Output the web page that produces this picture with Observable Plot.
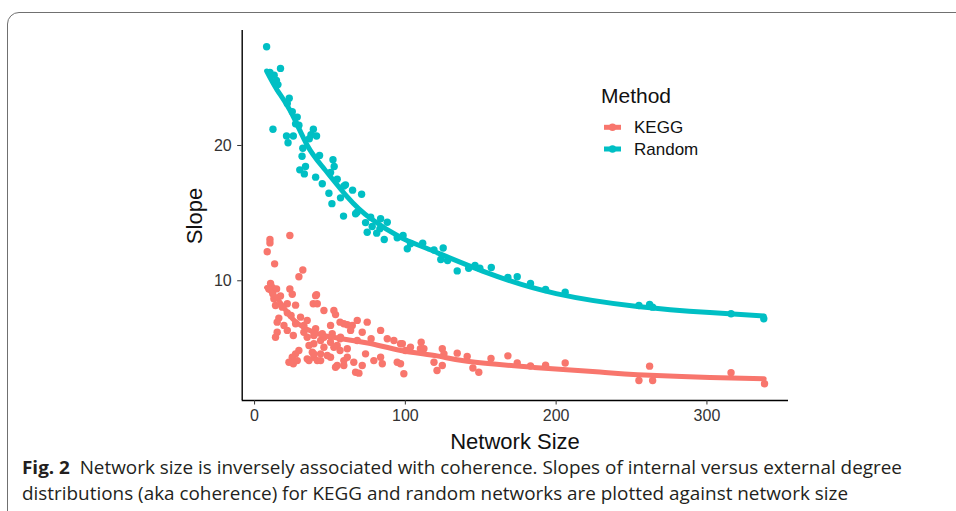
<!DOCTYPE html>
<html>
<head>
<meta charset="utf-8">
<script src="https://cdn.jsdelivr.net/npm/d3@7"></script>
<script src="https://cdn.jsdelivr.net/npm/@observablehq/plot@0.6"></script>
<style>
html,body{margin:0;padding:0;width:956px;height:511px;overflow:hidden;background:#fff;}
#frame{position:absolute;left:7px;top:12px;width:1000px;height:600px;border:1.4px solid #707070;border-radius:12px;box-sizing:border-box;}
#chart{position:absolute;left:0;top:0;}
#overlay{position:absolute;left:0;top:0;pointer-events:none;}
</style>
</head>
<body>
<div id="frame"></div>
<div id="chart"></div>
<svg id="overlay" width="956" height="511"></svg>
<script>
// ---- data ----
const methods = ["KEGG", "Random"];
const methodColors = ["#F8766D", "#00BFC4"];
const xTicks = [0, 100, 200, 300];
const yTicks = [10, 20];

// [network size, slope]
const randomPoints = [
  [8,27.3],[10.2,25.4],[17.2,25.7],[13,25.2],[14.5,24.8],[15.5,24.5],[12.2,21.2],[21.2,20.7],[22.2,20.2],[23,23.5],
  [21.7,23.1],[25,22.5],[28.3,22.1],[27.2,21.6],[29.4,21.5],[25.7,20.7],[39,21.2],[37.4,20.8],[36.3,20.5],[41.1,20.7],
  [31.5,19.2],[32,19.8],[43.1,19.26],[52,18.95],[52.8,18.45],[33.8,18.45],[30,18.2],[33,17.9],[50.4,18.0],[40.5,17.66],
  [54.8,17.5],[44.9,17.17],[60.3,17.09],[59.2,17.0],[65,16.7],[71,16.4],[49.3,16.47],[57,16.13],[51.3,15.7],[68,15.07],
  [59,14.78],[67,14.95],[77,14.7],[83.6,14.58],[88,14.33],[73.6,14.3],[78,14.01],[83.1,13.84],[74.7,13.59],[81,13.52],
  [86,13.05],[94.6,13.18],[98.5,13.35],[101.3,12.37],[103.4,12.74],[111.5,12.78],[119,12.28],[125.1,12.42],[123.5,11.57],[128,11.5],
  [134.4,10.73],[142,10.93],[146.2,11.13],[149.4,10.93],[157,10.98],[168,10.24],[174.2,10.3],[183,9.8],[193,9.35],[206,9.16],
  [254.9,8.17],[262,8.25],[264,8.05],[316,7.56],[337.7,7.19]
];

const keggPoints = [
  [10.2,13.05],[10.2,12.8],[23.4,13.35],[8.4,12.15],[13.3,11.25],[32,10.8],[29.4,10.3],[10.6,9.8],[11.7,9.5],[9.5,9.4],
  [14.6,9.4],[23.4,9.4],[25,9.0],[12.1,9.04],[17.2,8.87],[12.8,8.67],[41.1,8.97],[21.7,8.3],[27.2,8.2],[38.9,8.3],
  [41.6,8.3],[13.9,8.17],[18.4,8.05],[52.6,7.8],[46,7.8],[53.7,7.5],[21.7,7.63],[16.1,7.24],[24.2,7.43],[30.5,7.31],
  [34.9,7.07],[56.7,6.94],[50.4,6.7],[61.5,6.75],[15,6.94],[19.5,6.7],[27.2,6.82],[32.7,6.7],[40.5,6.45],[15,6.2],
  [13.9,5.83],[21.7,6.33],[25.7,5.96],[32.7,6.2],[34.9,5.83],[39.3,5.96],[44.9,6.08],[51.5,6.08],[56.7,5.71],[43.8,5.59],
  [50.4,5.46],[39.3,5.34],[36.1,5.22],[46,5.09],[54.8,5.22],[29.4,4.85],[27.2,4.6],[38.3,4.72],[43.8,4.6],[56.7,4.85],
  [25,4.35],[34.9,4.23],[22.8,3.98],[25.7,3.87],[39.3,4.35],[43.8,4.1],[50.4,4.35],[53.7,3.61],[59.2,3.74],[61.5,4.35],
  [36.1,4.1],[40.5,8.9],[59.2,6.82],[64.8,6.7],[68.1,7.07],[74.7,6.94],[63.7,6.33],[71.4,6.2],[83.6,6.33],[88,5.71],
  [77.3,5.71],[68.1,5.59],[57,5.83],[52.6,5.09],[61.5,4.97],[73.6,4.6],[83.6,4.35],[65.8,3.98],[71.4,3.74],[59.2,4.1],
  [54.8,3.74],[67,3.24],[69.2,3.17],[79.1,4.1],[84.7,3.87],[94.6,3.98],[96.8,3.87],[99,3.13],[92.4,5.59],[96.8,5.34],
  [103.4,5.09],[110,4.97],[119,3.98],[121,3.37],[46,5.83],[39.3,4.6],[48.2,4.48],[41.6,4.1],[28.3,4.1],[98,5.34],
  [100.1,4.85],[110.5,5.46],[112.3,4.97],[124.5,4.97],[125.6,4.6],[124.5,3.74],[134.4,4.65],[141,4.4],[144.8,3.55],[148.7,3.24],
  [156.8,4.26],[168,4.45],[174.2,3.92],[183,3.7],[193,3.76],[206,3.92],[254.9,2.63],[262,3.69],[264,2.63],[316,3.2],
  [338.2,2.39]
];

// fitted smooth curves
const randomFit = [[8,25.5],[15,24.1],[24,22.5],[35,20.0],[46,18.3],[61.5,16.2],[77,14.6],[97,13.2],[114,12.4],[154,10.6],[200,9.05],[254,8.1],[302,7.65],[338,7.4]];
const keggFit = [[8,9.5],[17,8.4],[26,7.1],[39,6.2],[53,5.8],[75,5.4],[97,4.85],[121,4.45],[141,4.05],[185,3.6],[229,3.25],[254,3.05],[302,2.85],[338,2.75]];

const toRows = (arr, m) => arr.map(([size, slope]) => ({size, slope, method: m}));
const pts = [...toRows(keggPoints, "KEGG"), ...toRows(randomPoints, "Random")];
const fits = [...toRows(keggFit, "KEGG"), ...toRows(randomFit, "Random")];

const plot = Plot.plot({
  width: 956,
  height: 455,
  marginLeft: 241.7,
  marginRight: 168,
  marginTop: 30,
  marginBottom: 55,
  style: {fontFamily: "'Liberation Sans', Arial, sans-serif", fontSize: "16px", background: "transparent", overflow: "visible"},
  x: {domain: [-8.2, 354.1]},
  y: {domain: [1.15, 28.5]},
  color: {domain: methods, range: methodColors},
  marks: [
    Plot.dot(pts, {x: "size", y: "slope", fill: "method", r: 3.7, stroke: "none"}),
    Plot.line(fits, {x: "size", y: "slope", stroke: "method", z: "method", strokeWidth: 5, curve: "natural"}),
    Plot.ruleY([1.15], {stroke: "#000", strokeWidth: 1.4}),
    Plot.ruleX([-8.2], {stroke: "#000", strokeWidth: 1.4}),
    Plot.axisX({ticks: xTicks, tickSize: 4.5, tickPadding: 4.5, label: null, stroke: "#333", fill: "#333", fontSize: 16}),
    Plot.axisY({ticks: yTicks, tickSize: 4.5, tickPadding: 6, label: null, stroke: "#333", fill: "#333", fontSize: 16})
  ]
});
document.getElementById("chart").appendChild(plot);

// ---- titles, legend and caption ----
const ov = d3.select("#overlay");
const ff = "'Liberation Sans', Arial, sans-serif";
ov.append("text").attr("x", 515).attr("y", 449).attr("text-anchor", "middle")
  .attr("font-family", ff).attr("font-size", 22).attr("fill", "#111").text("Network Size");
ov.append("text").attr("transform", "translate(202,216) rotate(-90)").attr("text-anchor", "middle")
  .attr("font-family", ff).attr("font-size", 22).attr("fill", "#111").text("Slope");

// legend
ov.append("text").attr("x", 601).attr("y", 103.3).attr("font-family", ff).attr("font-size", 21)
  .attr("fill", "#111").text("Method");
const ly = [127.3, 149];
methods.forEach((m, i) => {
  ov.append("line").attr("x1", 604).attr("x2", 621).attr("y1", ly[i]).attr("y2", ly[i])
    .attr("stroke", methodColors[i]).attr("stroke-width", 5);
  ov.append("circle").attr("cx", 612.5).attr("cy", ly[i]).attr("r", 3.7).attr("fill", methodColors[i]);
  ov.append("text").attr("x", 634).attr("y", ly[i] + 6).attr("font-family", ff).attr("font-size", 17)
    .attr("fill", "#111").text(m);
});

// caption
const cf = "'Open Sans', 'Noto Sans', sans-serif";
const c1 = ov.append("text").attr("x", 22).attr("y", 474).attr("font-family", cf).attr("font-size", 17.5)
  .attr("fill", "#231f20").attr("textLength", 880).attr("lengthAdjust", "spacingAndGlyphs");
c1.append("tspan").attr("font-weight", "bold").text("Fig. 2");
c1.append("tspan").attr("dx", 9).text("Network size is inversely associated with coherence. Slopes of internal versus external degree");
ov.append("text").attr("x", 22).attr("y", 500).attr("font-family", cf).attr("font-size", 17.5)
  .attr("fill", "#231f20").attr("textLength", 826).attr("lengthAdjust", "spacingAndGlyphs")
  .text("distributions (aka coherence) for KEGG and random networks are plotted against network size");
</script>
</body>
</html>
